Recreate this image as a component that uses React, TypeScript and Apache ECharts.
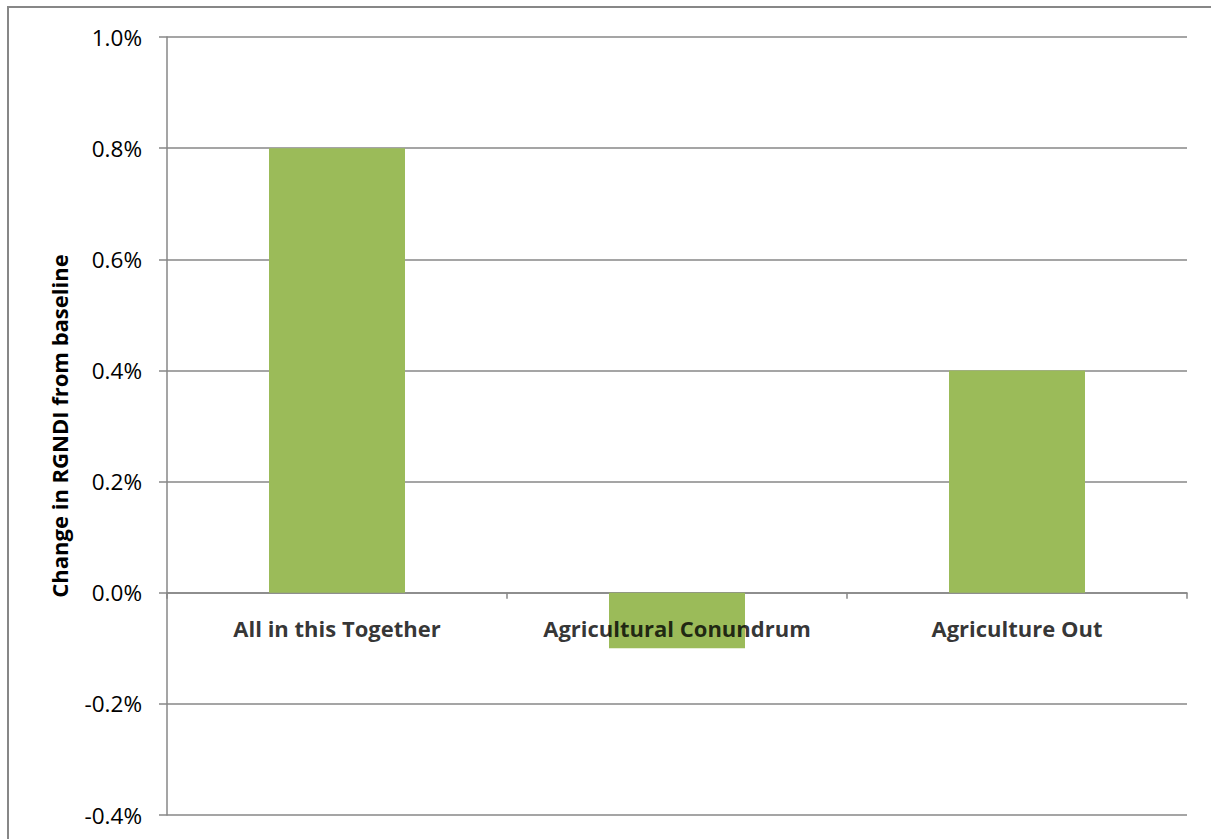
import React, { useEffect, useRef } from "react";
import * as echarts from "echarts";

const categories = ["All in this Together", "Agricultural Conundrum", "Agriculture Out"];
const values = [0.8, -0.1, 0.4];
const yAxisName = "Change in RGNDI from baseline";

const FONT = "'Open Sans', Lato, sans-serif";

export default function App() {
  const ref = useRef<HTMLDivElement>(null);
  useEffect(() => {
    if (!ref.current) return;
    const chart = echarts.init(ref.current, null, { renderer: "svg" });
    chart.setOption({
      animation: false,
      backgroundColor: "#ffffff",
      graphic: [
        {
          type: "rect",
          shape: { x: 8, y: 7, width: 1400, height: 1000 },
          style: { fill: "none", stroke: "#878787", lineWidth: 2 },
          silent: true,
        },
      ],
      grid: { left: 167, right: 24, top: 37, bottom: 24, containLabel: false, outerBoundsMode: "none" },
      xAxis: {
        type: "category",
        data: categories,
        axisLine: { onZero: true, lineStyle: { color: "#878787", width: 1.5 } },
        axisTick: { show: true, length: 6, lineStyle: { color: "#878787", width: 1.5 } },
        axisLabel: { show: false },
        splitLine: { show: false },
      },
      yAxis: {
        type: "value",
        min: -0.4,
        max: 1.0,
        interval: 0.2,
        name: yAxisName,
        nameLocation: "middle",
        nameGap: 97,
        nameRotate: 90,
        nameTextStyle: { color: "#000", fontWeight: "bold", fontSize: 22, fontFamily: FONT },
        axisLine: { show: true, lineStyle: { color: "#878787", width: 1.5 } },
        axisTick: { show: true, length: 8, lineStyle: { color: "#878787", width: 1.5 } },
        axisLabel: {
          color: "#000",
          fontSize: 22.5,
          fontFamily: FONT,
          margin: 25,
          formatter: (v: number) => v.toFixed(1) + "%",
        },
        splitLine: { show: true, lineStyle: { color: "#878787", width: 1.5 } },
      },
      series: [
        {
          type: "bar",
          data: values,
          barWidth: "40%",
          itemStyle: { color: "#9BBB59" },
        },
        {
          type: "scatter",
          data: categories.map((c) => [c, 0]),
          symbolSize: 0,
          silent: true,
          z: 10,
          label: {
            show: true,
            position: "inside",
            offset: [0, 35],
            formatter: (p: any) => p.data[0],
            color: "#000",
            fontWeight: "bold",
            fontSize: 22,
            fontFamily: FONT,
          },
        },
      ],
    });
    return () => chart.dispose();
  }, []);
  return (
    <div
      ref={ref}
      style={{ position: "fixed", left: 0, top: 0, width: 1211, height: 839 }}
    />
  );
}
